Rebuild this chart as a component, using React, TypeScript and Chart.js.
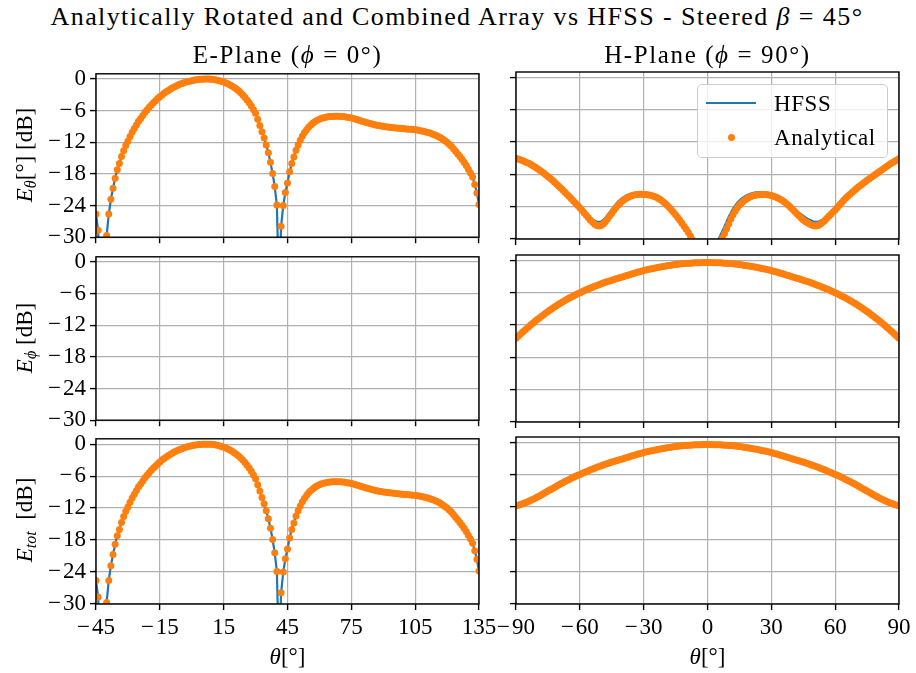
import React, { useEffect, useRef } from 'react';
import { Chart, registerables } from 'chart.js';

Chart.register(...registerables);

// ---------------- DATA ----------------
// sampling grids (degrees)
const THETA_E = Array.from({ length: 181 }, (_, i) => -45 + i); // E-plane: -45 .. 135, 1 deg
const THETA_H = Array.from({ length: 181 }, (_, i) => -90 + i); // H-plane: -90 .. 90, 1 deg
const THETA_H2 = Array.from({ length: 91 }, (_, i) => -90 + 2 * i); // H-plane HFSS: 2 deg

const X_TICKS_E = [-45, -15, 15, 45, 75, 105, 135];
const X_TICKS_H = [-90, -60, -30, 0, 30, 60, 90];
const Y_TICKS = [0, -6, -12, -18, -24, -30];

// E-plane (phi = 0), E_theta [dB], -45..135
const EPLANE_ETHETA = [
  -25.6, -28.7, -38, -45, -33, -29.7, -25.6, -22.8, -20.7, -18.8,
  -17.2, -16.0, -14.7, -13.6, -12.6, -11.8, -10.9, -10.1, -9.4, -8.7,
  -8.0, -7.5, -6.9, -6.3, -5.85, -5.35, -4.9, -4.5, -4.1, -3.7,
  -3.35, -3.0, -2.7, -2.4, -2.15, -1.9, -1.65, -1.45, -1.25, -1.05,
  -0.9, -0.75, -0.6, -0.5, -0.4, -0.3, -0.22, -0.15, -0.09, -0.05,
  -0.02, 0, 0, 0, -0.02, -0.07, -0.13, -0.21, -0.31, -0.43,
  -0.57, -0.73, -0.91, -1.11, -1.34, -1.6, -1.9, -2.23, -2.6, -3.0,
  -3.45, -3.95, -4.5, -5.1, -5.8, -6.5, -7.6, -8.8, -10.0, -11.2,
  -12.5, -14.0, -15.8, -17.9, -20.4, -23.9, -40, -27.9, -24.0, -21.5,
  -19.7, -17.6, -16.0, -14.8, -13.5, -12.5, -11.6, -10.8, -10.15, -9.6,
  -9.1, -8.7, -8.35, -8.05, -7.8, -7.6, -7.45, -7.33, -7.24, -7.17,
  -7.12, -7.08, -7.06, -7.05, -7.06, -7.08, -7.12, -7.17, -7.23, -7.3,
  -7.38, -7.5, -7.6, -7.72, -7.85, -7.98, -8.1, -8.22, -8.34, -8.45,
  -8.55, -8.65, -8.74, -8.82, -8.9, -8.97, -9.03, -9.09, -9.14, -9.19,
  -9.23, -9.27, -9.31, -9.35, -9.39, -9.43, -9.47, -9.5, -9.54, -9.57,
  -9.6, -9.67, -9.75, -9.83, -9.92, -10.02, -10.13, -10.25, -10.4, -10.55,
  -10.72, -10.92, -11.15, -11.4, -11.7, -12.0, -12.35, -12.75, -13.2, -13.7,
  -14.2, -14.7, -15.2, -15.8, -16.4, -17.1, -17.8, -18.6, -20.0, -21.6,
  -23.8,
];
// E-plane E_phi: nothing above -30 dB
const EPLANE_EPHI: number[] = [];
// E-plane E_tot (identical to E_theta in the picture)
const EPLANE_ETOT = EPLANE_ETHETA;

// H-plane (phi = 90), E_theta analytical [dB], -90..90
const HPLANE_ETHETA = [
  -15.0, -15.15, -15.3, -15.45, -15.6, -15.78, -15.96, -16.15, -16.38, -16.63,
  -16.9, -17.18, -17.47, -17.77, -18.07, -18.4, -18.73, -19.07, -19.42, -19.78,
  -20.15, -20.53, -20.92, -21.32, -21.72, -22.12, -22.52, -22.93, -23.35, -23.78,
  -24.22, -24.67, -25.13, -25.6, -26.05, -26.5, -26.9, -27.25, -27.5, -27.6,
  -27.5, -27.2, -26.8, -26.3, -25.75, -25.2, -24.65, -24.15, -23.7, -23.3,
  -22.95, -22.65, -22.4, -22.2, -22.03, -21.9, -21.8, -21.73, -21.7, -21.7,
  -21.72, -21.75, -21.8, -21.87, -21.97, -22.1, -22.27, -22.48, -22.73, -23.02,
  -23.35, -23.72, -24.13, -24.57, -25.03, -25.5, -26.0, -26.52, -27.06, -27.62,
  -28.2, -28.8, -29.45, -30.2, -31.1, -32.3, -33.8, -35.8, -38.5, -43,
  -42, -38.5, -35.8, -33.8, -32.5, -31.4, -30.55, -29.8, -29.0, -28.1,
  -27.2, -26.3, -25.5, -24.8, -24.2, -23.7, -23.3, -22.95, -22.65, -22.4,
  -22.2, -22.04, -21.92, -21.84, -21.79, -21.76, -21.75, -21.76, -21.78, -21.84,
  -21.93, -22.05, -22.2, -22.38, -22.58, -22.8, -23.1, -23.4, -23.75, -24.1,
  -24.5, -24.9, -25.3, -25.7, -26.1, -26.45, -26.75, -27.0, -27.2, -27.4,
  -27.55, -27.6, -27.5, -27.25, -26.95, -26.6, -26.2, -25.8, -25.4, -25.0,
  -24.6, -24.15, -23.7, -23.25, -22.8, -22.4, -22.03, -21.67, -21.32, -20.98,
  -20.64, -20.32, -20.0, -19.7, -19.4, -19.1, -18.82, -18.55, -18.28, -18.0,
  -17.72, -17.44, -17.16, -16.88, -16.6, -16.32, -16.05, -15.8, -15.56, -15.33,
  -15.1,
];
// H-plane E_theta HFSS [dB], -90..90 step 2
const HPLANE_ETHETA_HFSS = [
  -15.0, -15.3, -15.6, -15.96, -16.38, -16.9, -17.47, -18.07, -18.73, -19.42,
  -20.15, -20.92, -21.72, -22.52, -23.3, -24.1, -24.95, -25.75, -26.4, -26.8,
  -26.75, -26.1, -25.05, -24.0, -23.05, -22.35, -21.9, -21.6, -21.45, -21.45,
  -21.55, -21.72, -21.95, -22.27, -22.73, -23.35, -24.13, -25.03, -26.0, -27.06,
  -28.2, -29.45, -31.1, -33.8, -38.5, -40, -33.35, -30.95, -29.35, -27.65,
  -25.85, -24.35, -23.25, -22.5, -21.95, -21.6, -21.4, -21.31, -21.31, -21.39,
  -21.6, -21.93, -22.35, -22.95, -23.65, -24.45, -25.0, -25.4, -26.0, -26.45,
  -26.8, -26.8, -26.4, -25.85, -25.25, -24.6, -23.7, -22.8, -22.03, -21.32,
  -20.64, -20.0, -19.4, -18.82, -18.28, -17.72, -17.16, -16.6, -16.05, -15.56,
  -15.1,
];
// H-plane E_phi [dB], -90..90
const HPLANE_EPHI = [
  -14.46, -14.09, -13.72, -13.36, -13.01, -12.66, -12.31, -11.97, -11.64, -11.31,
  -10.99, -10.68, -10.37, -10.07, -9.77, -9.49, -9.21, -8.93, -8.67, -8.41,
  -8.16, -7.91, -7.67, -7.44, -7.22, -7.00, -6.79, -6.59, -6.39, -6.19,
  -6.00, -5.82, -5.64, -5.47, -5.30, -5.13, -4.97, -4.81, -4.66, -4.51,
  -4.36, -4.22, -4.08, -3.94, -3.81, -3.68, -3.55, -3.43, -3.31, -3.19,
  -3.07, -2.94, -2.81, -2.69, -2.56, -2.45, -2.33, -2.22, -2.11, -2.00,
  -1.90, -1.80, -1.71, -1.62, -1.53, -1.44, -1.36, -1.28, -1.21, -1.14,
  -1.07, -1.00, -0.94, -0.88, -0.83, -0.78, -0.73, -0.68, -0.64, -0.60,
  -0.57, -0.54, -0.51, -0.48, -0.46, -0.44, -0.43, -0.42, -0.41, -0.40,
  -0.40,
  -0.40, -0.41, -0.42, -0.43, -0.44, -0.46, -0.48, -0.51, -0.54, -0.57,
  -0.60, -0.64, -0.68, -0.73, -0.78, -0.83, -0.88, -0.94, -1.00, -1.07,
  -1.14, -1.21, -1.28, -1.36, -1.44, -1.53, -1.62, -1.71, -1.80, -1.90,
  -2.00, -2.11, -2.22, -2.33, -2.45, -2.56, -2.69, -2.81, -2.94, -3.07,
  -3.19, -3.31, -3.43, -3.55, -3.68, -3.81, -3.94, -4.08, -4.22, -4.36,
  -4.51, -4.66, -4.81, -4.97, -5.13, -5.30, -5.47, -5.64, -5.82, -6.00,
  -6.19, -6.39, -6.59, -6.79, -7.00, -7.22, -7.44, -7.67, -7.91, -8.16,
  -8.41, -8.67, -8.93, -9.21, -9.49, -9.77, -10.07, -10.37, -10.68, -10.99,
  -11.31, -11.64, -11.97, -12.31, -12.66, -13.01, -13.36, -13.72, -14.09, -14.46,
];
// H-plane E_tot [dB], -90..90
const HPLANE_ETOT = [
  -11.76, -11.66, -11.54, -11.41, -11.27, -11.11, -10.94, -10.75, -10.56, -10.36,
  -10.15, -9.93, -9.71, -9.49, -9.27, -9.04, -8.81, -8.59, -8.36, -8.14,
  -7.92, -7.70, -7.49, -7.28, -7.08, -6.88, -6.68, -6.49, -6.30, -6.12,
  -5.94, -5.77, -5.60, -5.43, -5.26, -5.10, -4.94, -4.78, -4.63, -4.48,
  -4.34, -4.20, -4.06, -3.92, -3.79, -3.66, -3.55, -3.43, -3.31, -3.19,
  -3.07, -2.94, -2.81, -2.69, -2.56, -2.45, -2.33, -2.22, -2.11, -2.00,
  -1.90, -1.80, -1.71, -1.62, -1.53, -1.44, -1.36, -1.28, -1.21, -1.14,
  -1.07, -1.00, -0.94, -0.88, -0.83, -0.78, -0.73, -0.68, -0.64, -0.60,
  -0.57, -0.54, -0.51, -0.48, -0.46, -0.44, -0.43, -0.42, -0.41, -0.40,
  -0.40,
  -0.40, -0.41, -0.42, -0.43, -0.44, -0.46, -0.48, -0.51, -0.54, -0.57,
  -0.60, -0.64, -0.68, -0.73, -0.78, -0.83, -0.88, -0.94, -1.00, -1.07,
  -1.14, -1.21, -1.28, -1.36, -1.44, -1.53, -1.62, -1.71, -1.80, -1.90,
  -2.00, -2.11, -2.22, -2.33, -2.45, -2.56, -2.69, -2.81, -2.94, -3.07,
  -3.19, -3.31, -3.43, -3.55, -3.66, -3.79, -3.92, -4.06, -4.20, -4.34,
  -4.48, -4.63, -4.78, -4.94, -5.10, -5.26, -5.43, -5.60, -5.77, -5.94,
  -6.12, -6.30, -6.49, -6.68, -6.88, -7.08, -7.28, -7.49, -7.70, -7.92,
  -8.14, -8.36, -8.59, -8.81, -9.04, -9.27, -9.49, -9.71, -9.93, -10.15,
  -10.36, -10.56, -10.75, -10.94, -11.11, -11.27, -11.41, -11.54, -11.66, -11.76,
];

// ---------------- LAYOUT / STYLE ----------------
const FONT = "'Liberation Serif', 'Times New Roman', serif";
const BLUE = '#1f77b4';
const ORANGE = '#ff7f0e';
const COLS = [
  { L: 96, R: 479 },
  { L: 516, R: 899 },
];
const ROWS = [
  { T: 72, B: 239 },
  { T: 255, B: 422 },
  { T: 437, B: 604 },
];
const PAD_T = 16;
const PAD_R = 26;

type PanelSpec = {
  row: number;
  col: number;
  thetaA: number[];
  valsA: number[];
  thetaH: number[];
  valsH: number[];
};

const PANELS: PanelSpec[] = [
  { row: 0, col: 0, thetaA: THETA_E, valsA: EPLANE_ETHETA, thetaH: THETA_E, valsH: EPLANE_ETHETA },
  { row: 0, col: 1, thetaA: THETA_H, valsA: HPLANE_ETHETA, thetaH: THETA_H2, valsH: HPLANE_ETHETA_HFSS },
  { row: 1, col: 0, thetaA: THETA_E, valsA: EPLANE_EPHI, thetaH: THETA_E, valsH: EPLANE_EPHI },
  { row: 1, col: 1, thetaA: THETA_H, valsA: HPLANE_EPHI, thetaH: THETA_H, valsH: HPLANE_EPHI },
  { row: 2, col: 0, thetaA: THETA_E, valsA: EPLANE_ETOT, thetaH: THETA_E, valsH: EPLANE_ETOT },
  { row: 2, col: 1, thetaA: THETA_H, valsA: HPLANE_ETOT, thetaH: THETA_H, valsH: HPLANE_ETOT },
];

const fmt = (v: number) => (v < 0 ? '\u2212\u200a' + Math.abs(v) : String(v));

const framePlugin = {
  id: 'frame',
  afterDatasetsDraw(chart: any) {
    const { ctx, chartArea } = chart;
    const { left, top, right, bottom } = chartArea;
    ctx.save();
    ctx.strokeStyle = '#000';
    ctx.lineWidth = 1.4;
    ctx.strokeRect(left, top, right - left, bottom - top);
    ctx.restore();
  },
};

function Panel({ spec }: { spec: PanelSpec }) {
  const ref = useRef<HTMLCanvasElement>(null);
  const { L, R } = COLS[spec.col];
  const { T, B } = ROWS[spec.row];
  const yw = spec.col === 0 ? 92 : 24;
  const xh = spec.row === 2 ? 46 : 16;
  const w = R - L + yw + PAD_R;
  const h = B - T + PAD_T + xh;
  const showX = spec.row === 2;
  const showY = spec.col === 0;
  const xTicks = spec.col === 0 ? X_TICKS_E : X_TICKS_H;

  useEffect(() => {
    const canvas = ref.current;
    if (!canvas) return;
    const ptsA = spec.valsA.map((v, i) => ({ x: spec.thetaA[i], y: v }));
    const ptsH = spec.valsH.map((v, i) => ({ x: spec.thetaH[i], y: v }));
    const gridOpts = {
      color: '#b0b0b0',
      lineWidth: 1.2,
      drawTicks: true,
      tickLength: 6,
      tickColor: '#000',
      tickWidth: 1.4,
    };
    const chart = new Chart(canvas, {
      type: 'scatter',
      data: {
        datasets: [
          {
            label: 'Analytical',
            data: ptsA,
            showLine: false,
            pointRadius: 3.5,
            pointBorderWidth: 0,
            pointBackgroundColor: ORANGE,
            backgroundColor: ORANGE,
            borderColor: ORANGE,
            clip: 0,
          },
          {
            label: 'HFSS',
            data: ptsH,
            showLine: true,
            borderColor: BLUE,
            borderWidth: 2.2,
            pointRadius: 0,
            tension: 0,
            clip: 0,
          },
        ],
      },
      options: {
        animation: false,
        responsive: false,
        maintainAspectRatio: false,
        events: [],
        layout: { padding: { top: PAD_T, right: PAD_R, left: 0, bottom: 0 } },
        plugins: { legend: { display: false }, tooltip: { enabled: false } },
        scales: {
          x: {
            type: 'linear',
            min: xTicks[0],
            max: xTicks[xTicks.length - 1],
            afterBuildTicks: (s: any) => {
              s.ticks = xTicks.map((v) => ({ value: v }));
            },
            afterFit: (s: any) => {
              s.height = xh;
            },
            grid: gridOpts,
            border: { display: false },
            ticks: {
              display: showX,
              autoSkip: false,
              maxRotation: 0,
              padding: 4,
              color: '#000',
              font: { family: FONT, size: 23 },
              callback: (v: any) => fmt(Number(v)),
            },
          },
          y: {
            type: 'linear',
            min: -30,
            max: 1,
            afterBuildTicks: (s: any) => {
              s.ticks = Y_TICKS.map((v) => ({ value: v }));
            },
            afterFit: (s: any) => {
              s.width = yw;
            },
            grid: gridOpts,
            border: { display: false },
            ticks: {
              display: showY,
              autoSkip: false,
              padding: 4,
              color: '#000',
              font: { family: FONT, size: 23 },
              callback: (v: any) => fmt(Number(v)),
            },
          },
        },
      },
      plugins: [framePlugin],
    } as any);
    return () => chart.destroy();
  }, []);

  return (
    <canvas
      ref={ref}
      width={w}
      height={h}
      style={{ position: 'absolute', left: L - yw, top: T - PAD_T, width: w, height: h }}
    />
  );
}

const txt = (extra: any): any => ({
  position: 'absolute',
  fontFamily: FONT,
  color: '#000',
  whiteSpace: 'nowrap',
  lineHeight: 1,
  ...extra,
});

const subS: any = { fontSize: '0.7em', verticalAlign: '-0.3em' };

export default function App() {
  return (
    <div style={{ position: 'absolute', left: 0, top: 0, width: 916, height: 673, background: '#fff', overflow: 'hidden' }}>
      {PANELS.map((p, i) => (
        <Panel key={i} spec={p} />
      ))}
      <div style={txt({ left: 457, top: 17, transform: 'translate(-50%,-50%)', fontSize: 26, letterSpacing: '1.4px' })}>
        Analytically Rotated and Combined Array vs HFSS - Steered <i>β</i> = 45°
      </div>
      <div style={txt({ left: 287.5, top: 54, transform: 'translate(-50%,-50%)', fontSize: 25, letterSpacing: '1.6px' })}>
        E-Plane (<i>ϕ</i> = 0°)
      </div>
      <div style={txt({ left: 707.5, top: 54, transform: 'translate(-50%,-50%)', fontSize: 25, letterSpacing: '1.6px' })}>
        H-Plane (<i>ϕ</i> = 90°)
      </div>
      <div style={txt({ left: 26, top: 155, transform: 'translate(-50%,-50%) rotate(-90deg)', fontSize: 23 })}>
        <i>E</i>
        <span style={subS}>
          <i>θ</i>
        </span>
        [°] [dB]
      </div>
      <div style={txt({ left: 26, top: 338, transform: 'translate(-50%,-50%) rotate(-90deg)', fontSize: 23 })}>
        <i>E</i>
        <span style={subS}>
          <i>ϕ</i>
        </span>{' '}
        [dB]
      </div>
      <div style={txt({ left: 26, top: 520, transform: 'translate(-50%,-50%) rotate(-90deg)', fontSize: 23 })}>
        <i>E</i>
        <span style={subS}>
          <i>tot</i>
        </span>
        {'\u00a0\u00a0'}[dB]
      </div>
      <div style={txt({ left: 287.5, top: 656, transform: 'translate(-50%,-50%)', fontSize: 23 })}>
        <i>θ</i>[°]
      </div>
      <div style={txt({ left: 707.5, top: 656, transform: 'translate(-50%,-50%)', fontSize: 23 })}>
        <i>θ</i>[°]
      </div>
      <div
        style={{
          position: 'absolute',
          left: 697,
          top: 84,
          width: 191,
          height: 74,
          boxSizing: 'border-box',
          border: '1px solid #cccccc',
          borderRadius: 5,
          background: 'rgba(255,255,255,0.8)',
          zIndex: 5,
        }}
      >
        <div style={{ position: 'absolute', left: 8, top: 17, width: 50, height: 2.2, background: BLUE }} />
        <div style={txt({ left: 76, top: 18, transform: 'translateY(-50%)', fontSize: 23, letterSpacing: '0.6px' })}>HFSS</div>
        <div
          style={{
            position: 'absolute',
            left: 29.5,
            top: 48.5,
            width: 7,
            height: 7,
            borderRadius: '50%',
            background: ORANGE,
          }}
        />
        <div style={txt({ left: 76, top: 52, transform: 'translateY(-50%)', fontSize: 23, letterSpacing: '0.6px' })}>Analytical</div>
      </div>
    </div>
  );
}
